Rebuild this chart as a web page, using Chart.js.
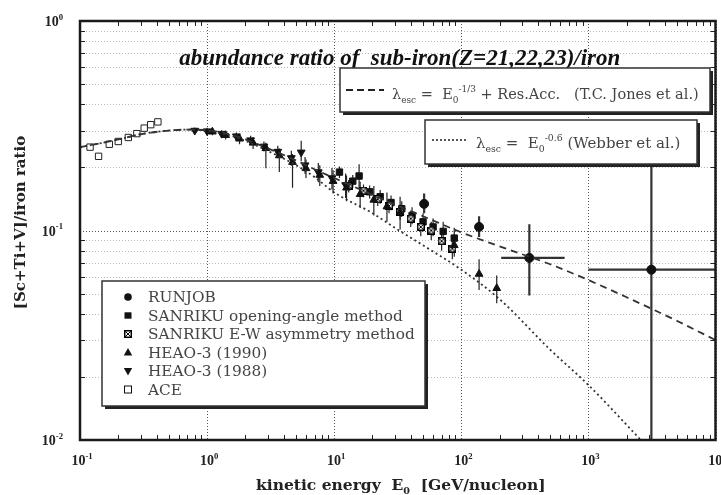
<!DOCTYPE html>
<html lang="en">
<head>
<meta charset="UTF-8">
<title>sub-iron / iron ratio</title>
<script src="https://cdn.jsdelivr.net/npm/chart.js"></script>
<style>
  html, body { margin: 0; padding: 0; background: #fff; }
  #wrap { width: 721px; height: 495px; }
</style>
</head>
<body>
<div id="wrap"><canvas id="ratioChart" width="721" height="495"></canvas></div>
<script>
// axis decades (labels are drawn as 10^exp)
var xDecades = [0.1, 1, 10, 100, 1000, 10000];
var xDecadeExp = ['-1', '0', '1', '2', '3', '4'];
var yDecades = [0.01, 0.1, 1];
var yDecadeExp = ['-2', '-1', '0'];

// model curves
var modelEnergy = [0.1, 0.15, 0.2, 0.3, 0.5, 0.7, 1, 1.5, 2, 3, 5, 7, 10, 20, 30, 50, 100, 200, 500, 1000, 2000, 5000, 10000];
var jonesRatio  = [0.250, 0.262, 0.272, 0.288, 0.300, 0.303, 0.301, 0.288, 0.272, 0.247, 0.216, 0.196, 0.178, 0.148, 0.133, 0.117, 0.098, 0.084, 0.069, 0.058, 0.048, 0.037, 0.030];
var webberRatio = [0.250, 0.262, 0.272, 0.288, 0.300, 0.303, 0.300, 0.285, 0.268, 0.240, 0.205, 0.180, 0.152, 0.121, 0.103, 0.085, 0.065, 0.047, 0.027, 0.0183, 0.0118, 0.0064, 0.0036];

// RUNJOB
var runjobE   = [51, 138, 343, 3130];
var runjobV   = [0.134, 0.104, 0.074, 0.065];
var runjobLo  = [0.121, 0.093, 0.049, 0.005];
var runjobHi  = [0.150, 0.117, 0.107, 0.205];
var runjobELo = [null, null, 206, 1000];
var runjobEHi = [null, null, 650, 10000];

// SANRIKU opening-angle method
var sanOpenE  = [11, 14, 15.7, 19, 23, 28, 34, 41, 50, 60, 72, 88];
var sanOpenV  = [0.190, 0.172, 0.182, 0.153, 0.145, 0.136, 0.127, 0.118, 0.110, 0.104, 0.099, 0.092];
var sanOpenLo = [0.178, 0.160, 0.158, 0.142, 0.134, 0.125, 0.116, 0.107, 0.099, 0.094, 0.088, 0.081];
var sanOpenHi = [0.202, 0.184, 0.207, 0.164, 0.156, 0.147, 0.138, 0.129, 0.121, 0.114, 0.110, 0.103];

// SANRIKU E-W asymmetry method
var sanEwE  = [13, 17, 22, 27, 33, 40, 48, 58, 70, 85];
var sanEwV  = [0.163, 0.155, 0.141, 0.131, 0.123, 0.114, 0.104, 0.100, 0.089, 0.082];
var sanEwLo = [0.152, 0.144, 0.131, 0.121, 0.113, 0.104, 0.094, 0.090, 0.080, 0.073];
var sanEwHi = [0.174, 0.166, 0.151, 0.141, 0.133, 0.124, 0.114, 0.110, 0.098, 0.091];

// HEAO-3 (1990)
var heao90E  = [1.1, 1.4, 1.8, 2.3, 2.9, 3.7, 4.7, 6.0, 7.7, 9.8, 12.5, 16, 20.5, 26, 33, 88, 138, 190];
var heao90V  = [0.296, 0.285, 0.274, 0.262, 0.247, 0.228, 0.212, 0.198, 0.184, 0.172, 0.160, 0.149, 0.140, 0.130, 0.122, 0.085, 0.062, 0.053];
var heao90Lo = [0.285, 0.272, 0.258, 0.245, 0.198, 0.190, 0.160, 0.178, 0.163, 0.150, 0.138, 0.128, 0.118, 0.110, 0.101, 0.075, 0.052, 0.045];
var heao90Hi = [0.307, 0.298, 0.290, 0.279, 0.262, 0.246, 0.232, 0.218, 0.205, 0.194, 0.183, 0.171, 0.163, 0.152, 0.145, 0.096, 0.073, 0.061];

// HEAO-3 (1988)
var heao88E  = [0.8, 1.0, 1.3, 1.7, 2.2, 2.8, 3.6, 4.6, 5.5, 5.9, 7.5, 9.6, 12.3];
var heao88V  = [0.300, 0.298, 0.290, 0.282, 0.270, 0.252, 0.238, 0.222, 0.236, 0.205, 0.190, 0.178, 0.165];
var heao88Lo = [0.290, 0.287, 0.279, 0.270, 0.257, 0.238, 0.222, 0.204, 0.214, 0.186, 0.170, 0.157, 0.143];
var heao88Hi = [0.310, 0.309, 0.301, 0.294, 0.283, 0.266, 0.254, 0.240, 0.268, 0.224, 0.210, 0.199, 0.187];

// ACE
var aceE = [0.12, 0.14, 0.17, 0.2, 0.24, 0.28, 0.32, 0.36, 0.41];
var aceV = [0.250, 0.226, 0.258, 0.266, 0.278, 0.290, 0.308, 0.320, 0.330];

var SERIF = "'Liberation Serif', 'DejaVu Serif', serif";
var WIDE = "'DejaVu Serif', serif";

function pts(xs, ys) {
    return xs.map(function (x, i) { return { x: x, y: ys[i] }; });
}

// square with a cross, for the E-W asymmetry points
var crossImg = document.createElement('canvas');
crossImg.width = 8; crossImg.height = 8;
(function () {
    var c = crossImg.getContext('2d');
    c.fillStyle = '#fff'; c.fillRect(0, 0, 8, 8);
    c.strokeStyle = '#000'; c.lineWidth = 1.5;
    c.strokeRect(0.75, 0.75, 6.5, 6.5);
    c.lineWidth = 1;
    c.beginPath();
    c.moveTo(1, 1); c.lineTo(7, 7); c.moveTo(7, 1); c.lineTo(1, 7);
    c.stroke();
})();

// text with sub/superscripts: parts = [[text, ''|'sub'|'sup'], ...]
function fontFor(p, o) {
    var s = p[1] ? o.size * 0.62 : o.size;
    return (o.style || 'normal') + ' ' + (o.weight || 'normal') + ' ' + s + 'px ' + (o.family || SERIF);
}
function drawRich(ctx, parts, x, y, o) {
    var w = 0;
    parts.forEach(function (p) { ctx.font = fontFor(p, o); w += ctx.measureText(p[0]).width; });
    if (o.align === 'center') x -= w / 2;
    if (o.align === 'right') x -= w;
    ctx.textAlign = 'left';
    ctx.textBaseline = 'alphabetic';
    parts.forEach(function (p) {
        var dy = p[1] === 'sub' ? o.size * 0.28 : (p[1] === 'sup' ? -o.size * 0.45 : 0);
        ctx.font = fontFor(p, o);
        ctx.fillText(p[0], x, y + dy);
        x += ctx.measureText(p[0]).width;
    });
}

function drawMarker(ctx, kind, x, y) {
    ctx.save();
    ctx.fillStyle = '#111'; ctx.strokeStyle = '#111'; ctx.lineWidth = 1;
    ctx.beginPath();
    if (kind === 'circle') { ctx.arc(x, y, 3.8, 0, Math.PI * 2); ctx.fill(); }
    else if (kind === 'rect') { ctx.fillRect(x - 3.5, y - 3.2, 7, 6.4); }
    else if (kind === 'cross') { ctx.drawImage(crossImg, x - 4, y - 4); }
    else if (kind === 'up') { ctx.moveTo(x, y - 4.5); ctx.lineTo(x + 4.2, y + 3); ctx.lineTo(x - 4.2, y + 3); ctx.closePath(); ctx.fill(); }
    else if (kind === 'down') { ctx.moveTo(x, y + 4.5); ctx.lineTo(x + 4.2, y - 3); ctx.lineTo(x - 4.2, y - 3); ctx.closePath(); ctx.fill(); }
    else if (kind === 'open') { ctx.fillStyle = '#fff'; ctx.fillRect(x - 3.5, y - 3.5, 7, 7); ctx.strokeRect(x - 3.5, y - 3.5, 7, 7); }
    ctx.restore();
}

function shadowBox(ctx, x, y, w, h) {
    ctx.save();
    ctx.fillStyle = '#222';
    ctx.fillRect(x + 3, y + 3, w, h);
    ctx.fillStyle = '#fff';
    ctx.fillRect(x, y, w, h);
    ctx.strokeStyle = '#333';
    ctx.lineWidth = 1.5;
    ctx.strokeRect(x, y, w, h);
    ctx.restore();
}

var annotPlugin = {
    id: 'annot',
    beforeDatasetsDraw: function (chart) {
        var ctx = chart.ctx, a = chart.chartArea;
        var xs = chart.scales.x, ys = chart.scales.y;
        ctx.save();
        ctx.lineWidth = 1;
        // horizontal minor grid
        ctx.setLineDash([1, 2]);
        yDecades.forEach(function (d) {
            for (var m = 2; m <= 9; m++) {
                var v = d * m;
                if (v >= 1) continue;
                var py = Math.round(ys.getPixelForValue(v)) + 0.5;
                ctx.strokeStyle = '#b8b8b8';
                ctx.beginPath(); ctx.moveTo(a.left, py); ctx.lineTo(a.right, py); ctx.stroke();
            }
        });
        // major grid
        ctx.strokeStyle = '#555';
        yDecades.forEach(function (d) {
            var py = Math.round(ys.getPixelForValue(d)) + 0.5;
            ctx.beginPath(); ctx.moveTo(a.left, py); ctx.lineTo(a.right, py); ctx.stroke();
        });
        xDecades.forEach(function (d) {
            var px = Math.round(xs.getPixelForValue(d)) + 0.5;
            ctx.beginPath(); ctx.moveTo(px, a.top); ctx.lineTo(px, a.bottom); ctx.stroke();
        });
        ctx.setLineDash([]);

        // error bars
        ctx.beginPath(); ctx.rect(a.left, a.top, a.right - a.left, a.bottom - a.top); ctx.clip();
        chart.data.datasets.forEach(function (ds) {
            if (!ds.yLow) return;
            ctx.strokeStyle = ds.errColor || '#222';
            ctx.lineWidth = ds.errWidth || 1.2;
            ds.data.forEach(function (p, i) {
                var px = xs.getPixelForValue(p.x);
                ctx.beginPath();
                ctx.moveTo(px, ys.getPixelForValue(ds.yLow[i]));
                ctx.lineTo(px, ys.getPixelForValue(ds.yHigh[i]));
                if (ds.xLow && ds.xLow[i]) {
                    var py = ys.getPixelForValue(p.y);
                    ctx.moveTo(xs.getPixelForValue(ds.xLow[i]), py);
                    ctx.lineTo(xs.getPixelForValue(ds.xHigh[i]), py);
                }
                ctx.stroke();
            });
        });
        ctx.restore();
    },
    afterDatasetsDraw: function (chart) {
        var ctx = chart.ctx, a = chart.chartArea;
        var xs = chart.scales.x, ys = chart.scales.y;
        ctx.save();

        // minor tick marks on the frame
        ctx.strokeStyle = '#222'; ctx.lineWidth = 1;
        xDecades.forEach(function (d) {
            for (var m = 2; m <= 9; m++) {
                var v = d * m;
                if (v > 10000) continue;
                var px = Math.round(xs.getPixelForValue(v)) + 0.5;
                ctx.beginPath();
                ctx.moveTo(px, a.top); ctx.lineTo(px, a.top + 5);
                ctx.moveTo(px, a.bottom); ctx.lineTo(px, a.bottom - 5);
                ctx.stroke();
            }
        });
        yDecades.forEach(function (d) {
            for (var m = 2; m <= 9; m++) {
                var v = d * m;
                if (v >= 1) continue;
                var py = Math.round(ys.getPixelForValue(v)) + 0.5;
                ctx.beginPath();
                ctx.moveTo(a.left, py); ctx.lineTo(a.left + 5, py);
                ctx.moveTo(a.right, py); ctx.lineTo(a.right - 5, py);
                ctx.stroke();
            }
        });

        // frame
        ctx.strokeStyle = '#1a1a1a';
        ctx.lineWidth = 2.5;
        ctx.strokeRect(a.left, a.top, a.right - a.left, a.bottom - a.top);

        // title
        ctx.fillStyle = '#111';
        drawRich(ctx, [['abundance ratio of  sub-iron(Z=21,22,23)/iron', '']], (a.left + a.right) / 2 + 2, 65,
            { size: 23, weight: 'bold', style: 'italic', align: 'center' });

        // model legend boxes
        shadowBox(ctx, 340, 68, 370, 44);
        ctx.strokeStyle = '#222'; ctx.lineWidth = 2; ctx.setLineDash([7, 4]);
        ctx.beginPath(); ctx.moveTo(346, 90); ctx.lineTo(384, 90); ctx.stroke();
        ctx.setLineDash([]);
        ctx.fillStyle = '#444';
        drawRich(ctx, [['\u03bb', ''], ['esc', 'sub'], [' =  E', ''], ['0', 'sub'], ['-1/3', 'sup'], [' + Res.Acc.   (T.C. Jones et al.)', '']], 392, 99,
            { size: 14.5, family: WIDE });

        shadowBox(ctx, 425, 120, 272, 44);
        ctx.strokeStyle = '#222'; ctx.lineWidth = 1.5; ctx.setLineDash([2, 2]);
        ctx.beginPath(); ctx.moveTo(432, 140); ctx.lineTo(468, 140); ctx.stroke();
        ctx.setLineDash([]);
        ctx.fillStyle = '#444';
        drawRich(ctx, [['\u03bb', ''], ['esc', 'sub'], [' =  E', ''], ['0', 'sub'], ['-0.6', 'sup'], [' (Webber et al.)', '']], 476, 148,
            { size: 15, family: WIDE });

        // data legend box
        shadowBox(ctx, 102, 281, 323, 125);
        var entries = [
            ['circle', 'RUNJOB'],
            ['rect', 'SANRIKU opening-angle method'],
            ['cross', 'SANRIKU E-W asymmetry method'],
            ['up', 'HEAO-3 (1990)'],
            ['down', 'HEAO-3 (1988)'],
            ['open', 'ACE']
        ];
        entries.forEach(function (e, i) {
            var y = 297 + i * 18.5;
            drawMarker(ctx, e[0], 128, y);
            ctx.fillStyle = '#444';
            drawRich(ctx, [[e[1], '']], 148, y + 5, { size: 15.3, family: WIDE });
        });

        // tick labels
        ctx.fillStyle = '#222';
        yDecades.forEach(function (d, i) {
            var py = ys.getPixelForValue(d);
            drawRich(ctx, [['10', ''], [yDecadeExp[i], 'sup']], 63, py + 5, { size: 14, weight: 'bold', align: 'right' });
        });
        xDecades.forEach(function (d, i) {
            var px = xs.getPixelForValue(d);
            drawRich(ctx, [['10', ''], [xDecadeExp[i], 'sup']], px + 2, 465, { size: 14, weight: 'bold', align: 'center' });
        });

        // axis titles
        drawRich(ctx, [['kinetic energy  E', ''], ['0', 'sub'], ['  [GeV/nucleon]', '']], (a.left + a.right) / 2 + 3, 490,
            { size: 15.5, weight: 'bold', family: WIDE, align: 'center' });
        ctx.save();
        ctx.translate(25, (a.top + a.bottom) / 2 - 8);
        ctx.rotate(-Math.PI / 2);
        drawRich(ctx, [['[Sc+Ti+V]/iron ratio', '']], 0, 0, { size: 15, weight: 'bold', family: WIDE, align: 'center' });
        ctx.restore();

        ctx.restore();
    }
};

var ctx = document.getElementById('ratioChart').getContext('2d');
var ratioChart = new Chart(ctx, {
    type: 'scatter',
    data: {
        datasets: [
            {
                label: 'Jones et al.',
                data: pts(modelEnergy, jonesRatio),
                showLine: true, pointRadius: 0,
                borderColor: '#333', borderWidth: 1.8, borderDash: [7, 5],
                cubicInterpolationMode: 'monotone'
            },
            {
                label: 'Webber et al.',
                data: pts(modelEnergy, webberRatio),
                showLine: true, pointRadius: 0,
                borderColor: '#333', borderWidth: 1.8, borderDash: [2, 3],
                cubicInterpolationMode: 'monotone'
            },
            {
                label: 'ACE',
                data: pts(aceE, aceV),
                pointStyle: 'rect', pointRadius: 4.5,
                backgroundColor: '#fff', borderColor: '#222', borderWidth: 1
            },
            {
                label: 'HEAO-3 (1988)',
                data: pts(heao88E, heao88V),
                yLow: heao88Lo, yHigh: heao88Hi,
                pointStyle: 'triangle', rotation: 180, pointRadius: 4.5,
                backgroundColor: '#111', borderColor: '#111', borderWidth: 1
            },
            {
                label: 'HEAO-3 (1990)',
                data: pts(heao90E, heao90V),
                yLow: heao90Lo, yHigh: heao90Hi,
                pointStyle: 'triangle', pointRadius: 4.5,
                backgroundColor: '#111', borderColor: '#111', borderWidth: 1
            },
            {
                label: 'SANRIKU E-W asymmetry method',
                data: pts(sanEwE, sanEwV),
                yLow: sanEwLo, yHigh: sanEwHi,
                pointStyle: crossImg, pointRadius: 4
            },
            {
                label: 'SANRIKU opening-angle method',
                data: pts(sanOpenE, sanOpenV),
                yLow: sanOpenLo, yHigh: sanOpenHi,
                pointStyle: 'rect', pointRadius: 4.5,
                backgroundColor: '#111', borderColor: '#111', borderWidth: 1
            },
            {
                label: 'RUNJOB',
                data: pts(runjobE, runjobV),
                yLow: runjobLo, yHigh: runjobHi, xLow: runjobELo, xHigh: runjobEHi,
                errWidth: 2.2, errColor: '#333',
                pointStyle: 'circle', pointRadius: 4.5,
                backgroundColor: '#111', borderColor: '#111', borderWidth: 1
            }
        ]
    },
    options: {
        responsive: false,
        animation: false,
        events: [],
        layout: { padding: { top: 21, right: 3, left: 0, bottom: 0 } },
        plugins: {
            legend: { display: false },
            tooltip: { enabled: false }
        },
        scales: {
            x: {
                type: 'logarithmic', min: 0.1, max: 10000,
                ticks: { display: false },
                grid: { display: false },
                border: { display: false },
                afterFit: function (s) { s.height = 55; }
            },
            y: {
                type: 'logarithmic', min: 0.01, max: 1,
                ticks: { display: false },
                grid: { display: false },
                border: { display: false },
                afterFit: function (s) { s.width = 80; }
            }
        }
    },
    plugins: [annotPlugin]
});
</script>
</body>
</html>
